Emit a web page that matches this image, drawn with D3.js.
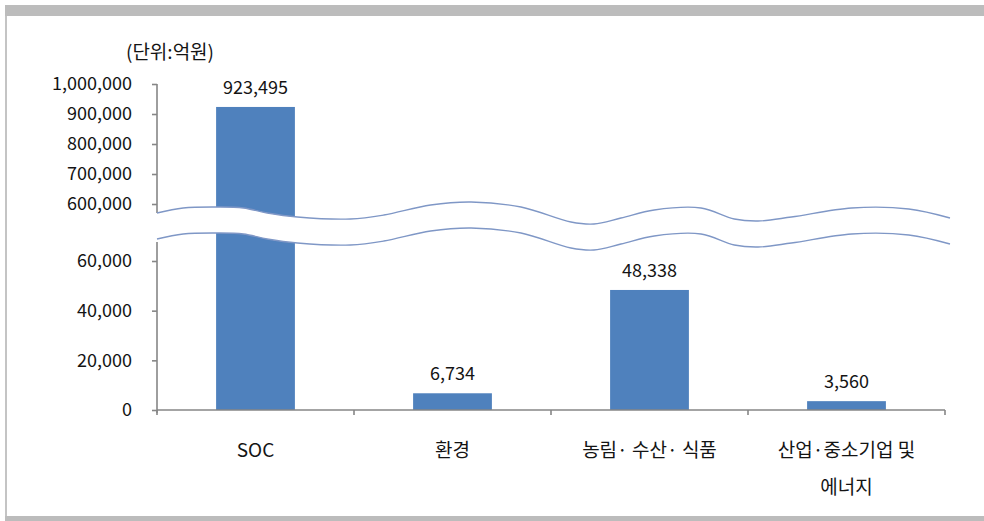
<!DOCTYPE html>
<html>
<head>
<meta charset="utf-8">
<script src="https://cdn.jsdelivr.net/npm/d3@7"></script>
<style>
  body { margin: 0; background: #fff; }
  text { font-family: "Noto Sans CJK KR", "Noto Sans", sans-serif; fill: #141414; }
</style>
</head>
<body>
<svg id="chart"></svg>
<script>
"use strict";

var width  = 984,
    height = 521;

// data
var categories = ["SOC", "환경", "농림· 수산· 식품", "산업·중소기업 및\n에너지"];
var values     = [923495, 6734, 48338, 3560];
var upperTicks = [600000, 700000, 800000, 900000, 1000000];
var lowerTicks = [0, 20000, 40000, 60000];
var unitLabel  = "(단위:억원)";

// break wave: [x fraction along axis, y offset]
var wave = [[0, 0], [0.033, -5], [0.076, -6], [0.109, -5], [0.139, 0], [0.177, 4],
            [0.244, 6], [0.286, 2], [0.345, -8], [0.396, -11], [0.459, -6],
            [0.522, 9], [0.551, 11], [0.585, 5], [0.627, -3], [0.686, -5],
            [0.728, 6], [0.758, 8], [0.800, 4], [0.876, -5], [0.948, -4], [1, 5]];
var waveGap = 26;

var svg = d3.select("#chart")
            .attr("width", width)
            .attr("height", height);

// frame
svg.append("rect").attr("x", 5).attr("y", 5).attr("width", width - 5).attr("height", 11).attr("fill", "#bcbcbc");
svg.append("rect").attr("x", 5).attr("y", 16).attr("width", 2).attr("height", 500).attr("fill", "#c4c4c4");
svg.append("rect").attr("x", 5).attr("y", 516).attr("width", width - 5).attr("height", 5).attr("fill", "#bcbcbc");

var x0 = 157, x1 = 945;

var x = d3.scaleBand()
          .domain(categories)
          .range([x0, x1])
          .padding(0);

var yUp = d3.scaleLinear().domain([600000, 1000000]).range([204, 84]);
var yLo = d3.scaleLinear().domain([0, 60000]).range([410, 261]);

function yVal(v) { return v > 60000 ? yUp(v) : yLo(v); }

var axisColor = "#868686";

// bars
var barW = x.bandwidth() * 0.4;
svg.selectAll("rect.bar")
   .data(values)
   .enter().append("rect")
     .attr("class", "bar")
     .attr("x", function(d, i) { return x(categories[i]) + (x.bandwidth() - barW) / 2; })
     .attr("width", barW)
     .attr("y", function(d) { return yVal(d); })
     .attr("height", function(d) { return yLo(0) - yVal(d); })
     .attr("fill", "#4f81bd");

// value labels
svg.selectAll("text.val")
   .data(values)
   .enter().append("text")
     .attr("class", "val")
     .attr("x", function(d, i) { return x(categories[i]) + x.bandwidth() / 2; })
     .attr("y", function(d) { return yVal(d) - 13; })
     .attr("text-anchor", "middle")
     .style("font-size", "18px")
     .text(d3.format(","));

// y axes
function styleAxis(g) {
    g.selectAll("path, line").attr("stroke", axisColor).attr("stroke-width", 1.6);
    g.selectAll("text").style("font-size", "18px").attr("fill", "#141414");
}

var upAxis = svg.append("g")
   .attr("transform", "translate(" + x0 + ",0)")
   .call(d3.axisLeft(yUp).tickValues(upperTicks).tickSize(5).tickSizeOuter(0).tickPadding(20).tickFormat(d3.format(",")));
upAxis.select(".domain").remove();
styleAxis(upAxis);

var loAxis = svg.append("g")
   .attr("transform", "translate(" + x0 + ",0)")
   .call(d3.axisLeft(yLo).tickValues(lowerTicks).tickSize(5).tickSizeOuter(0).tickPadding(20).tickFormat(d3.format(",")));
loAxis.select(".domain").remove();
styleAxis(loAxis);

// x axis
var xAxis = svg.append("g")
   .attr("transform", "translate(0," + yLo(0) + ")")
   .call(d3.axisBottom(x).tickSize(0).tickFormat(""));
xAxis.select(".domain").attr("d", "M" + x0 + ",0H" + x1);
xAxis.selectAll(".tick").remove();
styleAxis(xAxis);
var bounds = [x0].concat(categories.map(function(c) { return x(c) + x.bandwidth(); }));
xAxis.selectAll("line.sep")
   .data(bounds)
   .enter().append("line")
     .attr("x1", function(d) { return d; })
     .attr("x2", function(d) { return d; })
     .attr("y1", 0).attr("y2", 5)
     .attr("stroke", axisColor).attr("stroke-width", 1.6);

// break wave
var wx = d3.scaleLinear().domain([0, 1]).range([x0, 950]);
var waveTop = 213;
var area = d3.area()
             .x(function(d) { return wx(d[0]); })
             .y0(function(d) { return waveTop + d[1]; })
             .y1(function(d) { return waveTop + d[1] + waveGap; })
             .curve(d3.curveCatmullRom);
var line = d3.line()
             .x(function(d) { return wx(d[0]); })
             .y(function(d) { return d[1]; })
             .curve(d3.curveCatmullRom);

// axis segments around the break
svg.append("line").attr("x1", x0).attr("x2", x0).attr("y1", yUp(1000000)).attr("y2", waveTop + wave[0][1])
   .attr("stroke", axisColor).attr("stroke-width", 1.6);
svg.append("line").attr("x1", x0).attr("x2", x0).attr("y1", waveTop + wave[0][1] + waveGap + 3).attr("y2", yLo(0) + 3)
   .attr("stroke", axisColor).attr("stroke-width", 1.6);

svg.append("path").datum(wave).attr("d", area).attr("fill", "#fff");
svg.append("path")
   .datum(wave.map(function(d) { return [d[0], waveTop + d[1]]; }))
   .attr("d", line).attr("fill", "none").attr("stroke", "#7f97c6").attr("stroke-width", 1.3);
svg.append("path")
   .datum(wave.map(function(d) { return [d[0], waveTop + d[1] + waveGap]; }))
   .attr("d", line).attr("fill", "none").attr("stroke", "#7f97c6").attr("stroke-width", 1.3);

// category labels
svg.selectAll("text.cat")
   .data(categories)
   .enter().append("text")
     .attr("class", "cat")
     .attr("x", function(d) { return x(d) + x.bandwidth() / 2; })
     .attr("y", 457)
     .attr("text-anchor", "middle")
     .style("font-size", "19px")
     .each(function(d) {
        var parts = d.split("\n");
        var t = d3.select(this);
        parts.forEach(function(p, i) {
            t.append("tspan")
             .attr("x", x(d) + x.bandwidth() / 2)
             .attr("dy", i === 0 ? 0 : 37)
             .text(p);
        });
     });

// unit label
svg.append("text")
   .attr("x", 170)
   .attr("y", 59)
   .attr("text-anchor", "middle")
   .style("font-size", "19px")
   .text(unitLabel);
</script>
</body>
</html>
